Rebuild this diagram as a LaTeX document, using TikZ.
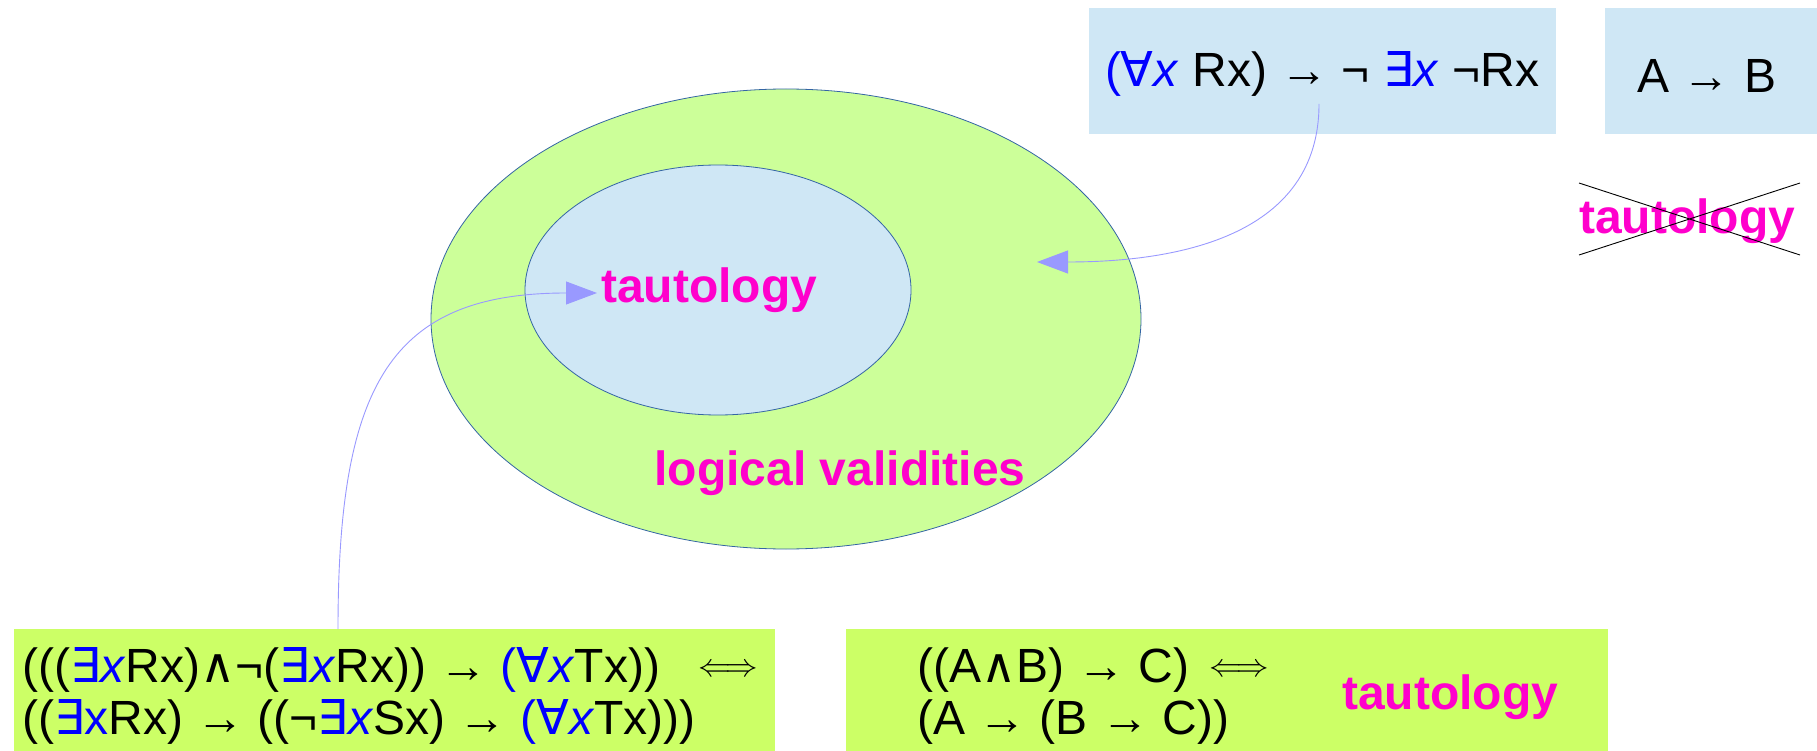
\documentclass[tikz,border=0pt]{standalone}
\usepackage{fontspec}
\setmainfont{Liberation Sans}
\newfontfamily\dv{DejaVu Sans}
\usetikzlibrary{arrows.meta,shapes.geometric}
\definecolor{ellgreen}{HTML}{CCFF99}
\definecolor{boxgreen}{HTML}{CCFF66}
\definecolor{lblue}{HTML}{CFE7F5}
\definecolor{edge}{HTML}{3465A4}
\definecolor{mag}{HTML}{FF00CC}
\definecolor{qb}{HTML}{0000FF}
\definecolor{arr}{HTML}{9999FF}
\newcommand{\qAll}{{\dv ∀}}
\newcommand{\qEx}{{\dv ∃}}
\newcommand{\qAnd}{{\dv ∧}}
\newcommand{\vx}{\textit{x}}
\newcommand{\qIff}{\raisebox{0.12em}{\scalebox{3.25}{\fontsize{10}{12}\selectfont$\Longleftrightarrow$}}}
\tikzset{
  x=1pt, y=-1pt,
  setell/.style={draw=edge, line width=0.8pt},
  bluebox/.style={fill=lblue, inner sep=0pt},
  greenbox/.style={fill=boxgreen, inner sep=0pt},
  formula/.style={font=\fontsize{48}{52}\selectfont, inner sep=0pt},
  label/.style={font=\fontsize{48}{56}\selectfont\bfseries, text=mag, inner sep=0pt},
  link/.style={draw=arr, line width=0.9pt, -{Triangle[length=31pt,width=23pt]}},
}
\begin{document}
\begin{tikzpicture}
\path[use as bounding box] (0,0) rectangle (1817,751);
% sets
\node[setell, fill=ellgreen, ellipse, minimum width=710pt, minimum height=460pt, inner sep=0pt] (outer) at (786,319) {};
\node[setell, fill=lblue, ellipse, minimum width=386pt, minimum height=250pt, inner sep=0pt] (inner) at (718,290) {};
\node[label] (taut) at (709,290) {tautology};
\node[label] (lv) at (840,473) {logical validities};
% top boxes
\node[bluebox, minimum width=467pt, minimum height=126pt] (b1) at (1322,71) {};
\node[formula] (f1) at (1322,74) {\textcolor{qb}{(\qAll\vx} Rx) → ¬ \textcolor{qb}{\qEx\vx} ¬Rx};
\node[bluebox, minimum width=212pt, minimum height=126pt] (b2) at (1711,71) {};
\node[formula] (f2) at (1707,76) {A → B};
% crossed tautology
\node[label] (ct) at (1687,221) {tautology};
\coordinate (c1) at (1579,183);
\coordinate (c2) at (1800,255);
\coordinate (c3) at (1579,255);
\coordinate (c4) at (1800,183);
\draw[black, line width=0.9pt] (c1) -- (c2) (c3) -- (c4);
% bottom boxes
\node[greenbox, minimum width=761pt, minimum height=122pt] (b3) at (394.5,690) {};
\node[formula, anchor=west, align=left] (f3) at (22,696) {(((\textcolor{qb}{\qEx\vx}Rx)\qAnd¬(\textcolor{qb}{\qEx\vx}Rx)) → \textcolor{qb}{(\qAll\vx}Tx))\hspace{38pt}\qIff\\((\textcolor{qb}{\qEx x}Rx) → ((¬\textcolor{qb}{\qEx\vx}Sx) → \textcolor{qb}{(\qAll\vx}Tx)))};
\node[greenbox, minimum width=762pt, minimum height=122pt] (b4) at (1227,690) {};
\node[formula, anchor=west, align=left] (f4) at (917,696) {((A\qAnd B) → C)\hspace{20pt}\qIff\\(A → (B → C))};
\node[label] (bt) at (1450,697) {tautology};
% connectors
\coordinate (s1) at (1319,104);
\coordinate (e1) at (1037,262);
\draw[link] (s1) .. controls (1319,235) and (1180,262) .. (e1);
\coordinate (s2) at (338,629);
\coordinate (e2) at (597,293);
\draw[link] (s2) .. controls (338,385) and (390,293) .. (e2);
\end{tikzpicture}
\end{document}
